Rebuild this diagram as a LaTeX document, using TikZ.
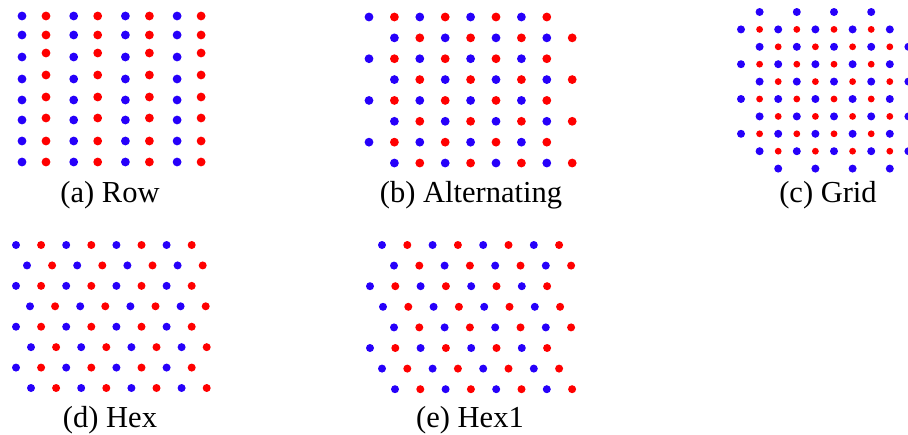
\documentclass[tikz,border=0pt]{standalone}
\usepackage{fontspec}
\setmainfont{Liberation Serif}
\usepackage{tikz}
\usetikzlibrary{positioning}
\definecolor{dotblue}{RGB}{38,0,250}
\definecolor{dotred}{RGB}{255,0,0}

\begin{document}
\begin{tikzpicture}[
    x=1pt, y=-1pt,
    bdot/.style={fill=dotblue},
    rdot/.style={fill=dotred},
    caption/.style={anchor=base, inner sep=0pt, font=\fontsize{30.5}{36}\selectfont}
]
\useasboundingbox (0,0) rectangle (908,434);

% (a) Row: blue and red columns
\foreach \yb/\yr [count=\j] in {16/16,35/35,57/53,79/75,100/97,120/118,141/141,162/162}
  \foreach \i in {0,...,3} {
    \fill[bdot] (22+51.7*\i,\yb) circle (4.4);
    \fill[rdot] (46+51.7*\i,\yr) circle (4.4);
  }
\node[caption] (capa) at (110,202) {(a) Row};

% (b) Alternating: rows shifted by one column
\foreach \j in {0,...,7}
  \foreach \i in {0,...,7} {
    \pgfmathsetmacro{\k}{\i+mod(\j,2)}
    \pgfmathsetmacro{\c}{mod(\i,2)}
    \ifdim\c pt<0.5pt
      \fill[bdot] (369+25.4*\k,17+20.86*\j) circle (4.4);
    \else
      \fill[rdot] (369+25.4*\k,17+20.86*\j) circle (4.4);
    \fi
  }
\node[caption] (capb) at (471,202) {(b) Alternating};

% (c) Grid: checkerboard, cut at the corners
\foreach \k in {1,3,5,7} \fill[bdot] (741+18.6*\k,12) circle (4);
\foreach \k in {2,4,6,8} \fill[bdot] (741+18.6*\k,12+17.4*9) circle (4);
\foreach \j in {1,...,8}
  \foreach \i in {0,...,8} {
    \pgfmathsetmacro{\k}{\i+1-mod(\j,2)}
    \pgfmathsetmacro{\c}{mod(\k+\j,2)}
    \ifdim\c pt>0.5pt
      \fill[bdot] (741+18.6*\k,12+17.4*\j) circle (4);
    \else
      \fill[rdot] (741+18.6*\k,12+17.4*\j) circle (3.4);
    \fi
  }
\node[caption] (capc) at (828,202) {(c) Grid};

% (d) Hex
\foreach \s [count=\j from 0] in {0,11,0,14,0,15,0,15}
  \foreach \i in {0,...,7} {
    \pgfmathsetmacro{\c}{mod(\i,2)}
    \ifdim\c pt<0.5pt
      \fill[bdot] (16+\s+25.1*\i,245+20.43*\j) circle (4);
    \else
      \fill[rdot] (16+\s+25.1*\i,245+20.43*\j) circle (4);
    \fi
  }
\node[caption] (capd) at (110,427) {(d) Hex};

% (e) Hex1
\foreach \s [count=\j from 0] in {12,24,0,13,24,0,12,25}
  \foreach \i in {0,...,7} {
    \pgfmathsetmacro{\c}{mod(\i,2)}
    \ifdim\c pt<0.5pt
      \fill[bdot] (370+\s+25.3*\i,245+20.6*\j) circle (4);
    \else
      \fill[rdot] (370+\s+25.3*\i,245+20.6*\j) circle (4);
    \fi
  }
\node[caption] (cape) at (470,427) {(e) Hex1};
\end{tikzpicture}
\end{document}
